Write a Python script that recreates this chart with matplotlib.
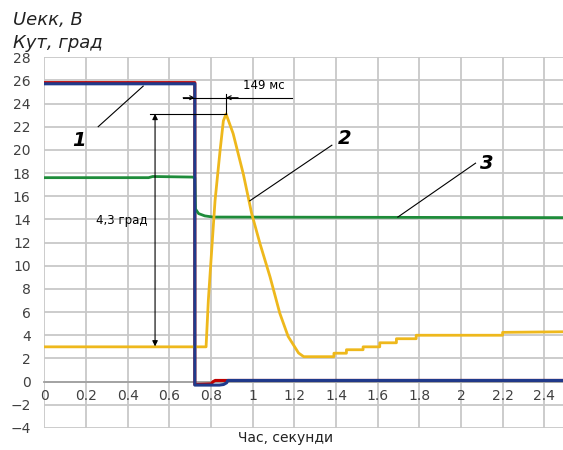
import matplotlib
matplotlib.use("Agg")
import matplotlib.pyplot as plt

# curve 1 (blue) and its red twin
blue_t = [0, 0.722, 0.722, 0.84, 0.86, 0.875, 0.88, 2.49]
blue_v = [25.7, 25.7, -0.3, -0.3, -0.25, -0.1, 0.1, 0.1]
red_t = [0, 0.722, 0.722, 0.80, 0.81, 0.82, 2.49]
red_v = [25.8, 25.8, -0.25, -0.2, 0.0, 0.1, 0.1]

# curve 3 (green)
green_t = [0, 0.5, 0.52, 0.71, 0.722, 0.725, 0.74, 0.77, 0.81, 2.49]
green_v = [17.6, 17.6, 17.7, 17.65, 17.6, 14.9, 14.5, 14.3, 14.2, 14.15]

# curve 2 (yellow)
yellow_t = [0, 0.776, 0.787, 0.803, 0.819, 0.843, 0.859, 0.872, 0.906, 0.955,
            0.995, 1.035, 1.083, 1.13, 1.17, 1.22, 1.245, 1.39, 1.39, 1.45,
            1.45, 1.53, 1.53, 1.61, 1.61, 1.69, 1.69, 1.785, 1.785, 2.2, 2.2, 2.49]
yellow_v = [3.0, 3.0, 7.05, 11.35, 15.6, 19.9, 22.5, 23.1, 21.4, 17.9,
            14.5, 11.9, 9.05, 5.9, 3.9, 2.47, 2.15, 2.15, 2.45, 2.45,
            2.75, 2.75, 3.0, 3.0, 3.35, 3.35, 3.7, 3.7, 4.0, 4.0, 4.25, 4.3]

x_ticks = [0, 0.2, 0.4, 0.6, 0.8, 1.0, 1.2, 1.4, 1.6, 1.8, 2.0, 2.2, 2.4]
x_labels = ["0", "0.2", "0.4", "0.6", "0.8", "1", "1.2", "1.4", "1.6", "1.8", "2", "2.2", "2.4"]
y_ticks = list(range(-4, 29, 2))

fig = plt.figure(figsize=(5.63, 4.5), dpi=100)
ax = fig.add_axes([0.079, 0.049, 0.921, 0.824])

ax.set_xlim(0, 2.49)
ax.set_ylim(-4, 28)
ax.set_xticks(x_ticks)
ax.set_xticklabels(x_labels)
ax.set_yticks(y_ticks)
ax.grid(True, color="#c8c8c8", lw=1.3)
ax.set_axisbelow(True)
for s in ["top", "right", "left"]:
    ax.spines[s].set_visible(False)
ax.spines["bottom"].set_position(("data", 0))
ax.spines["bottom"].set_color("#a0a0a0")
ax.spines["bottom"].set_linewidth(1.3)
ax.tick_params(length=0, labelsize=10, labelcolor="#404040", pad=5)
ax.tick_params(axis="y", pad=10)

ax.plot(red_t, red_v, color="#c00000", lw=2.2, zorder=3)
ax.plot(green_t, green_v, color="#1e8c3a", lw=2.0, zorder=3)
ax.plot(yellow_t, yellow_v, color="#eeb81c", lw=2.0, zorder=4)
ax.plot(blue_t, blue_v, color="#1f3a8c", lw=2.2, zorder=5)

# labels and leaders
k = dict(color="black", lw=0.8, zorder=6)
ax.plot([0.258, 0.474], [22.0, 25.5], **k)
ax.text(0.166, 20.8, "1", fontsize=14, style="italic", weight="semibold", ha="center", va="center")
ax.plot([1.38, 0.986], [20.4, 15.6], **k)
ax.text(1.443, 20.95, "2", fontsize=14, style="italic", weight="semibold", ha="center", va="center")
ax.plot([2.07, 1.697], [18.85, 14.2], **k)
ax.text(2.125, 18.8, "3", fontsize=14, style="italic", weight="semibold", ha="center", va="center")

# 4,3 grad dimension
ax.plot([0.506, 0.872], [23.1, 23.1], **k)
ax.annotate("", xy=(0.531, 23.1), xytext=(0.531, 3.04),
            arrowprops=dict(arrowstyle="<|-|>", color="black", lw=0.8,
                            mutation_scale=8, shrinkA=0, shrinkB=0), zorder=6)
ax.text(0.37, 13.9, "4,3 град", fontsize=8.5, ha="center", va="center")

# 149 ms dimension
ax.plot([0.666, 1.19], [24.5, 24.5], **k)
ax.plot([0.872, 0.872], [24.8, 23.1], **k)
ax.annotate("", xy=(0.722, 24.5), xytext=(0.666, 24.5),
            arrowprops=dict(arrowstyle="->", color="black", lw=0.8,
                            mutation_scale=7, shrinkA=0, shrinkB=0))
ax.annotate("", xy=(0.872, 24.5), xytext=(0.93, 24.5),
            arrowprops=dict(arrowstyle="->", color="black", lw=0.8,
                            mutation_scale=7, shrinkA=0, shrinkB=0))
ax.text(1.053, 24.95, "149 мс", fontsize=8.5, ha="center", va="bottom")

fig.text(0.023, 0.955, "Uекк, В", fontsize=13, style="italic", color="#222222", va="center")
fig.text(0.023, 0.905, "Кут, град", fontsize=13, style="italic", color="#222222", va="center")
fig.text(0.507, 0.027, "Час, секунди", fontsize=10, color="#222222", ha="center", va="center")

fig.savefig("out.png", dpi=100)
